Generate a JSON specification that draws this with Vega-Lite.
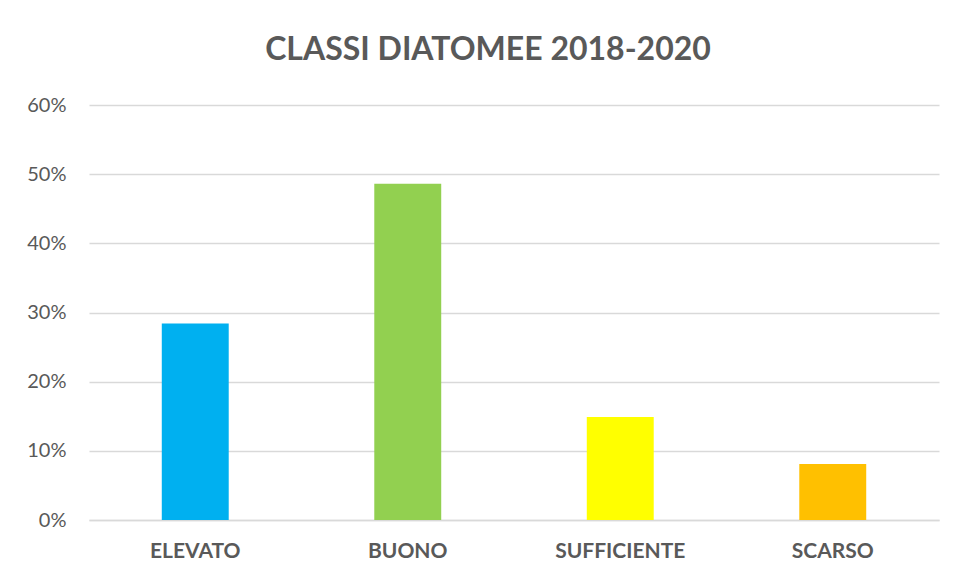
{
  "$schema": "https://vega.github.io/schema/vega-lite/v6.json",
  "width": 850,
  "height": 415,
  "autosize": {"type": "none"},
  "padding": {"left": 89, "top": 105, "right": 17, "bottom": 57},
  "background": "white",
  "title": {
    "text": "CLASSI DIATOMEE 2018-2020",
    "font": "Lato",
    "fontSize": 32,
    "fontWeight": "bold",
    "color": "#595959",
    "anchor": "middle",
    "baseline": "alphabetic",
    "offset": 3,
    "dx": -26
  },
  "data": {
    "values": [
      {"classe": "ELEVATO", "valore": 0.284},
      {"classe": "BUONO", "valore": 0.486},
      {"classe": "SUFFICIENTE", "valore": 0.149},
      {"classe": "SCARSO", "valore": 0.081}
    ]
  },
  "mark": {"type": "bar"},
  "encoding": {
    "x": {
      "field": "classe",
      "type": "nominal",
      "sort": null,
      "scale": {"paddingInner": 0.685, "paddingOuter": 0.3425},
      "axis": {
        "title": null,
        "labelAngle": 0,
        "labelFont": "Lato",
        "labelFontSize": 21,
        "labelFontWeight": "bold",
        "labelColor": "#595959",
        "labelPadding": 20,
        "ticks": false,
        "domainColor": "#D9D9D9",
        "domainWidth": 1.5,
        "grid": false
      }
    },
    "y": {
      "field": "valore",
      "type": "quantitative",
      "scale": {"domain": [0, 0.6]},
      "axis": {
        "title": null,
        "values": [0, 0.1, 0.2, 0.3, 0.4, 0.5, 0.6],
        "format": ".0%",
        "labelFont": "Lato",
        "labelFontSize": 20,
        "labelColor": "#595959",
        "labelPadding": 23,
        "ticks": false,
        "domain": false,
        "gridColor": "#D9D9D9",
        "gridWidth": 1.5
      }
    },
    "color": {
      "field": "classe",
      "type": "nominal",
      "sort": null,
      "scale": {
        "domain": ["ELEVATO", "BUONO", "SUFFICIENTE", "SCARSO"],
        "range": ["#00B0F0", "#92D050", "#FFFF00", "#FFC000"]
      },
      "legend": null
    }
  },
  "config": {
    "view": {"stroke": null}
  }
}
